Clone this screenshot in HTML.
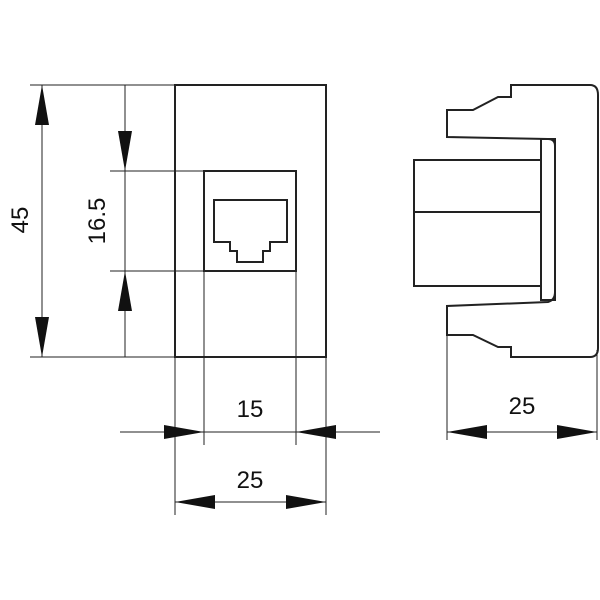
<!DOCTYPE html>
<html><head><style>body{margin:0;background:#fff}svg{display:block}</style></head><body>
<svg width="600" height="600" viewBox="0 0 600 600" xmlns="http://www.w3.org/2000/svg" font-family="Liberation Sans, sans-serif">
<g fill="none" stroke="#222" stroke-width="1">
<!-- extension lines -->
<line x1="30" y1="85" x2="175" y2="85"/>
<line x1="30" y1="357" x2="175" y2="357"/>
<line x1="110" y1="171" x2="204" y2="171"/>
<line x1="110" y1="271" x2="204" y2="271"/>
<line x1="42" y1="85" x2="42" y2="357"/>
<line x1="125" y1="85" x2="125" y2="357"/>
<line x1="175" y1="357" x2="175" y2="515"/>
<line x1="326" y1="357" x2="326" y2="515"/>
<line x1="204" y1="271" x2="204" y2="445"/>
<line x1="296" y1="271" x2="296" y2="445"/>
<line x1="120" y1="432" x2="380" y2="432"/>
<line x1="175" y1="502" x2="326" y2="502"/>
<line x1="447" y1="335" x2="447" y2="440"/>
<line x1="597" y1="350" x2="597" y2="440"/>
<line x1="447" y1="432" x2="597" y2="432"/>
</g>
<g fill="#111">
<polygon points="42,85 35,125 49,125"/>
<polygon points="42,357 35,317 49,317"/>
<polygon points="125,171 118,131 132,131"/>
<polygon points="125,271 118,311 132,311"/>
<polygon points="204,432 164,425 164,439"/>
<polygon points="296,432 336,425 336,439"/>
<polygon points="175,502 215,495 215,509"/>
<polygon points="326,502 286,495 286,509"/>
<polygon points="447,432 487,425 487,439"/>
<polygon points="597,432 557,425 557,439"/>
</g>
<g fill="none" stroke="#222" stroke-width="2">
<rect x="175" y="85" width="151" height="272"/>
<rect x="204" y="171" width="92" height="100"/>
<path d="M214,200 H287 V242 H270 V251 H263 V262 H237 V251 H230 V242 H214 Z"/>
<path d="M511,85 H590 Q598,85 598,95 V348 Q598,357 590,357 H511 V347 H498 L473,335 H447 V306 L548,302 Q555,300 555,292 V146 Q555,139 548,139 L447,137 V110 H473 L498,97 H511 Z"/>
<rect x="541" y="139" width="14" height="161"/>
<rect x="414" y="160" width="127" height="126"/>
<line x1="414" y1="212" x2="541" y2="212"/>
</g>
<g font-size="24" fill="#111" text-anchor="middle">
<text x="250" y="417">15</text>
<text x="250" y="488">25</text>
<text x="522" y="414">25</text>
<text transform="translate(28,220) rotate(-90)">45</text>
<text transform="translate(105,221) rotate(-90)">16.5</text>
</g>
</svg>
</body></html>
